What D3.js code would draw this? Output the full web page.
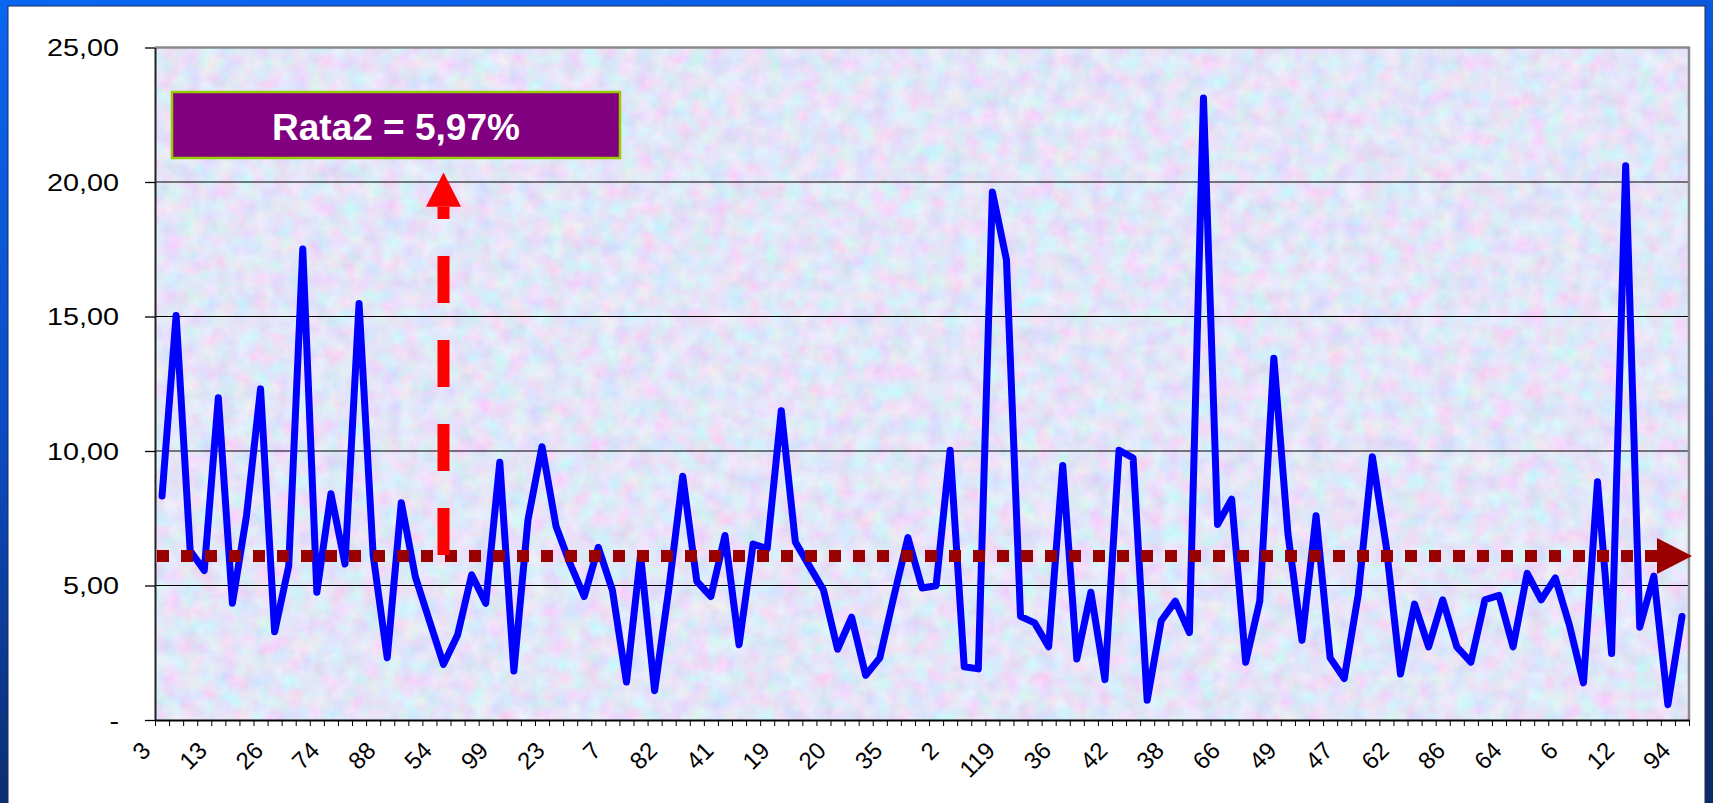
<!DOCTYPE html>
<html>
<head>
<meta charset="utf-8">
<script src="https://cdn.jsdelivr.net/npm/d3@7"></script>
<style>
  html, body { margin: 0; padding: 0; background: #0a4fc0; }
  svg { display: block; }
  text { font-family: "Liberation Sans", Arial, sans-serif; }
</style>
</head>
<body>
<svg id="chart" width="1713" height="803"></svg>
<script>
// ---------- data ----------
const values = [
  8.33, 15.04, 6.29, 5.56, 11.98, 4.34, 7.59, 12.31, 3.28, 5.72,
  17.51, 4.75, 8.41, 5.80, 15.48, 6.13, 2.31, 8.08, 5.32, 3.69,
  2.07, 3.16, 5.40, 4.34, 9.58, 1.82, 7.43, 10.16, 7.19, 5.80,
  4.59, 6.42, 4.83, 1.41, 6.13, 1.09, 4.83, 9.06, 5.15, 4.59,
  6.86, 2.80, 6.54, 6.37, 11.50, 6.62, 5.72, 4.83, 2.63, 3.82,
  1.66, 2.31, 4.59, 6.78, 4.91, 4.99, 10.03, 1.98, 1.90, 19.63,
  17.11, 3.85, 3.61, 2.72, 9.46, 2.27, 4.75, 1.50, 10.03, 9.74,
  0.73, 3.69, 4.42, 3.25, 23.12, 7.27, 8.21, 2.15, 4.42, 13.45,
  6.94, 2.96, 7.59, 2.31, 1.54, 4.67, 9.79, 6.40, 1.71, 4.31,
  2.72, 4.47, 2.72, 2.15, 4.47, 4.63, 2.72, 5.45, 4.47, 5.28,
  3.53, 1.38, 8.86, 2.47, 20.60, 3.45, 5.35, 0.57, 3.85
];
const xTickLabels = ["3","13","26","74","88","54","99","23","7","82","41","19","20","35",
                     "2","119","36","42","38","66","49","47","62","86","64","6","12","94"];
const labelStep = 4;
const yTicks = [0, 5, 10, 15, 20, 25];
const yTickLabels = ["-", "5,00", "10,00", "15,00", "20,00", "25,00"];
const avgLevel = 6.1;          // drawn level of the average line
const avgText = "Rata2 = 5,97%";
const arrowCategory = 20;      // category under the red arrow
const arrowTop = 20.35;
const arrowHeadBase = 19.08;

// ---------- layout ----------
const svg = d3.select("#chart");
const L = 155, R = 1689, T = 47.5, B = 720;
const n = values.length;
const x = d3.scaleBand().domain(d3.range(n)).range([L, R]).padding(0);
const xEdge = d3.scaleLinear().domain([0, n]).range([L, R]);
const y = d3.scaleLinear().domain([0, 25]).range([B, T]);
const cx = i => x(i) + x.bandwidth() / 2;

const defs = svg.append("defs");
const bg = defs.append("linearGradient").attr("id", "bgGrad")
  .attr("x1", "0").attr("y1", "0").attr("x2", "0.25").attr("y2", "1");
bg.append("stop").attr("offset", "0").attr("stop-color", "#0a66f2");
bg.append("stop").attr("offset", "0.5").attr("stop-color", "#0b4cc4");
bg.append("stop").attr("offset", "1").attr("stop-color", "#0c2a66");

const f = defs.append("filter").attr("id", "tex")
  .attr("x", 0).attr("y", 0).attr("width", "100%").attr("height", "100%");
f.append("feTurbulence").attr("type", "fractalNoise").attr("baseFrequency", "0.055")
  .attr("numOctaves", 3).attr("seed", 5).attr("result", "n");
f.append("feColorMatrix").attr("in", "n").attr("type", "matrix")
  .attr("values", "0.6 -0.2 0 0 0.6  -0.15 0.5 0 0 0.63  0 0 0.3 0 0.80  0 0 0 0 1");

// page background and white panel
svg.append("rect").attr("width", 1713).attr("height", 803).attr("fill", "url(#bgGrad)");
svg.append("rect").attr("x", 8).attr("y", 6).attr("width", 1697).attr("height", 810)
  .attr("fill", "#ffffff").attr("stroke", "#1a2a5a").attr("stroke-width", 1);

// plot area texture
svg.append("rect").attr("x", L).attr("y", T).attr("width", R - L).attr("height", B - T)
  .attr("fill", "#cfd9f3");
svg.append("rect").attr("x", L).attr("y", T).attr("width", R - L).attr("height", B - T)
  .attr("filter", "url(#tex)").attr("opacity", 0.85);

// grid lines
svg.append("g").selectAll("line").data(yTicks.filter(d => d > 0 && d < 25)).join("line")
  .attr("x1", L).attr("x2", R).attr("y1", d => y(d)).attr("y2", d => y(d))
  .attr("stroke", "#000").attr("stroke-width", 1);

// plot border (top & right gray)
svg.append("path").attr("d", `M${L},${T}H${R}V${B}`).attr("fill", "none")
  .attr("stroke", "#8a8a8a").attr("stroke-width", 2.5);

// y axis
const yAxis = svg.append("g").attr("transform", `translate(${L},0)`)
  .call(d3.axisLeft(y).tickValues(yTicks).tickFormat((d, i) => yTickLabels[i]).tickSize(10).tickSizeOuter(0));
yAxis.select(".domain").attr("stroke", "#222").attr("stroke-width", 2);
yAxis.selectAll(".tick line").attr("stroke", "#000").attr("stroke-width", 1.3);
yAxis.selectAll(".tick text")
  .attr("x", -36 / 1.25).attr("dy", "0.36em")
  .attr("transform", "scale(1.25,1)")
  .attr("font-size", 23).attr("fill", "#000")
  .attr("font-family", "Liberation Sans, Arial, sans-serif");

// x axis minor ticks
const xAxis = svg.append("g").attr("transform", `translate(0,${B})`)
  .call(d3.axisBottom(xEdge).tickValues(d3.range(n + 1)).tickFormat("").tickSize(6).tickSizeOuter(0));
xAxis.select(".domain").attr("stroke", "#000").attr("stroke-width", 2);
xAxis.selectAll(".tick line").attr("stroke", "#000").attr("stroke-width", 1);

// x labels
const labelIdx = d3.range(0, n, labelStep);
const xLab = svg.append("g").attr("transform", `translate(0,${B})`)
  .call(d3.axisBottom(x).tickValues(labelIdx)
    .tickFormat((d, i) => xTickLabels[i]).tickSize(0).tickSizeOuter(0));
xLab.select(".domain").remove();
xLab.selectAll(".tick text")
  .attr("x", 0).attr("y", 0).attr("dy", 0)
  .attr("text-anchor", "end")
  .attr("transform", "translate(-10,32) rotate(-45)")
  .attr("font-size", 24).attr("fill", "#000")
  .attr("font-family", "Liberation Sans, Arial, sans-serif");

// data line
const line = d3.line().x((d, i) => cx(i)).y(d => y(d));
svg.append("path").datum(values).attr("d", line)
  .attr("fill", "none").attr("stroke", "#0000ff").attr("stroke-width", 7)
  .attr("stroke-linejoin", "round").attr("stroke-linecap", "round");

// average dotted line with arrow
const ay = y(avgLevel);
const ax0 = L + 2, axBase = 1657, axTip = 1692;
svg.append("line").attr("x1", ax0).attr("x2", axBase).attr("y1", ay).attr("y2", ay)
  .attr("stroke", "#990000").attr("stroke-width", 12).attr("stroke-dasharray", "12 12");
svg.append("path").attr("d", `M${axBase},${ay - 18}L${axTip},${ay}L${axBase},${ay + 18}Z`)
  .attr("fill", "#990000");

// red dashed arrow
const rx = cx(arrowCategory);
svg.append("line").attr("x1", rx).attr("x2", rx).attr("y1", ay - 1).attr("y2", y(arrowHeadBase))
  .attr("stroke", "#ff0000").attr("stroke-width", 12).attr("stroke-dasharray", "47 37");
svg.append("path")
  .attr("d", `M${rx - 17.5},${y(arrowHeadBase)}L${rx},${y(arrowTop)}L${rx + 17.5},${y(arrowHeadBase)}Z`)
  .attr("fill", "#ff0000");

// label box
svg.append("rect").attr("x", 172).attr("y", 92).attr("width", 448).attr("height", 66)
  .attr("fill", "#800080").attr("stroke", "#99cc00").attr("stroke-width", 2.5);
svg.append("text").attr("x", 396).attr("y", 139.5).attr("text-anchor", "middle")
  .attr("font-size", 37).attr("font-weight", "bold").attr("fill", "#ffffff")
  .text(avgText);
</script>
</body>
</html>
